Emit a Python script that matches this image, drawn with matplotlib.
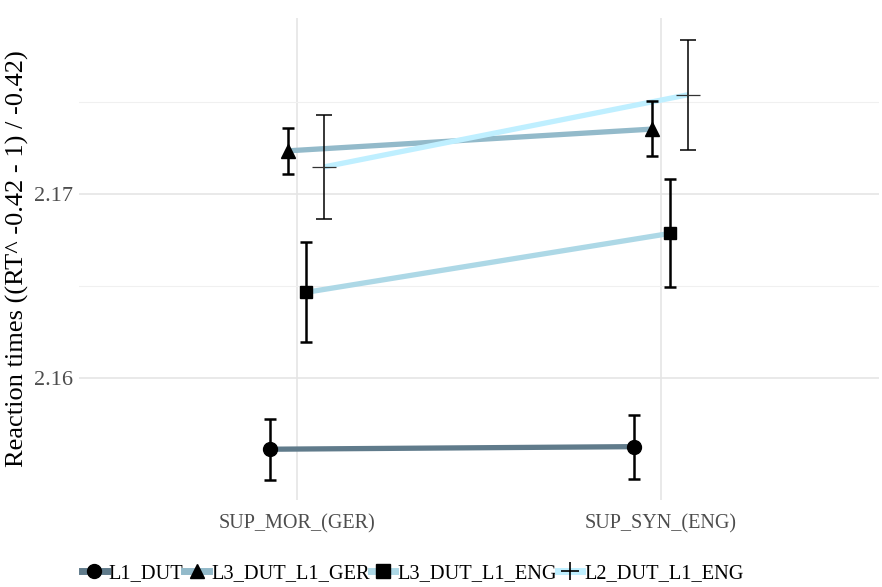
import numpy as np
import matplotlib.pyplot as plt
from matplotlib.lines import Line2D

plt.rcParams['font.family'] = ['Liberation Serif', 'DejaVu Serif']

categories = ["SUP_MOR_(GER)", "SUP_SYN_(ENG)"]
groups = ["L1_DUT", "L3_DUT_L1_GER", "L3_DUT_L1_ENG", "L2_DUT_L1_ENG"]
means = {
    "L1_DUT": [2.15613, 2.15627],
    "L3_DUT_L1_GER": [2.17235, 2.17353],
    "L3_DUT_L1_ENG": [2.16466, 2.16786],
    "L2_DUT_L1_ENG": [2.17148, 2.17540],
}
lower = {
    "L1_DUT": [2.15446, 2.15451],
    "L3_DUT_L1_GER": [2.17109, 2.17207],
    "L3_DUT_L1_ENG": [2.16196, 2.16496],
    "L2_DUT_L1_ENG": [2.16866, 2.17241],
}
upper = {
    "L1_DUT": [2.15776, 2.15799],
    "L3_DUT_L1_GER": [2.17360, 2.17507],
    "L3_DUT_L1_ENG": [2.16739, 2.17083],
    "L2_DUT_L1_ENG": [2.17429, 2.17839],
}
colors = ["#607B8B", "#93BACA", "#ADD8E6", "#BFEFFF"]
markers = ["o", "^", "s", "+"]
offsets = [-0.075, -0.025, 0.025, 0.075]

fig = plt.figure(figsize=(8.82, 5.87), dpi=100)
ax = fig.add_axes([79 / 882, 1 - 500 / 587, 800 / 882, 482 / 587])

x = np.arange(1, len(categories) + 1)
handles = []
for g, c, m, off in zip(groups, colors, markers, offsets):
    xs = x + off
    mu = np.array(means[g])
    lo = np.array(lower[g])
    hi = np.array(upper[g])
    ax.plot(xs, mu, color=c, lw=3.8, solid_capstyle='butt', zorder=2)
    thin = (m == "+")
    ax.errorbar(xs, mu, yerr=[mu - lo, hi - mu], fmt='none', ecolor='black',
                elinewidth=1.1 if thin else 1.8, capsize=5.5 if thin else 4.5,
                capthick=1.1 if thin else 1.8, zorder=3)
    if thin:
        ax.plot(xs, mu, ls='none', marker='_', ms=17, mew=0.9, color='#333333', zorder=4)
    else:
        ax.plot(xs, mu, ls='none', marker=m, ms=10 if m != "s" else 9,
                color='black', zorder=4)
    handles.append(Line2D([], [], color=c, lw=5, marker=m, ms=10 if m != "+" else 13,
                          mfc='black', mec='black', mew=1.2 if m == "+" else 1))

ax.set_xlim(0.4, 2.6)
ax.set_ylim(2.15337, 2.17957)
ax.set_xticks(x)
ax.set_xticklabels(categories, fontsize=14.5, color='#4D4D4D')
ax.set_yticks([2.16, 2.17])
ax.set_yticklabels(["2.16", "2.17"], fontsize=16, color='#4D4D4D')
ax.set_yticks([2.165, 2.175], minor=True)
ax.tick_params(which='both', length=0, pad=4)
ax.tick_params(axis='x', pad=10)
ax.grid(True, which='major', color='#E5E5E5', lw=1.2)
ax.grid(True, which='minor', axis='y', color='#F0F0F0', lw=0.8)
ax.set_axisbelow(True)
for s in ax.spines.values():
    s.set_visible(False)
ax.set_ylabel("Reaction times ((RT^ -0.42 - 1) / -0.42)", fontsize=19, labelpad=4)

fig.legend(handles, groups, loc='lower left', bbox_to_anchor=(74 / 882, -0.008),
           ncol=4, frameon=False, fontsize=14.7, handlelength=1.2,
           handletextpad=0.1, columnspacing=0.05, borderaxespad=0.0)

fig.savefig("out.png", dpi=100)
